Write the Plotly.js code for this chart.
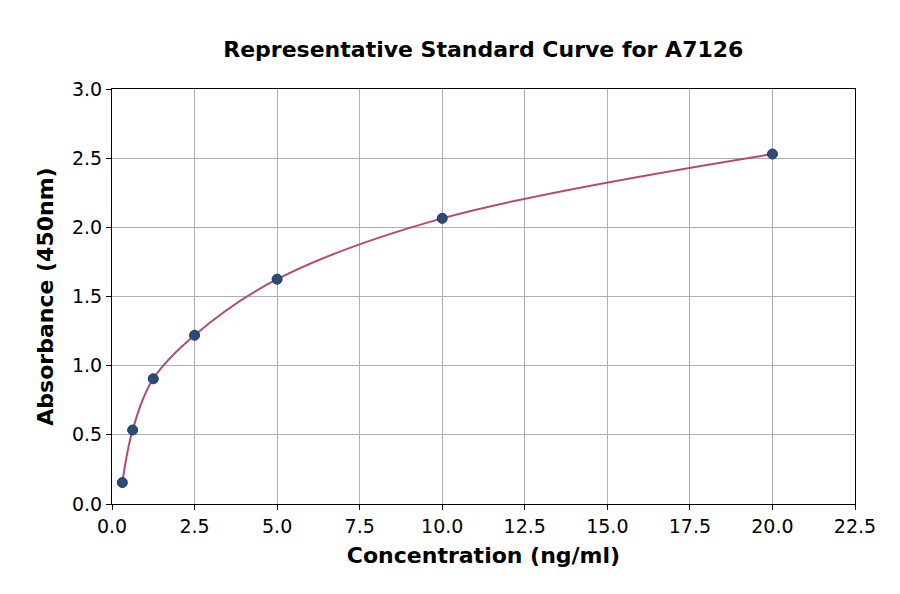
<!DOCTYPE html>
<html>
<head>
<meta charset="utf-8">
<script src="https://cdn.plot.ly/plotly-3.0.1.min.js"></script>
<style>
  html, body { margin: 0; padding: 0; background: #fff; }
  #myDiv { width: 900px; height: 594px; }
</style>
</head>
<body>
<div id="myDiv"></div>
<script>
// standard points
var concentration = [0.3125, 0.625, 1.25, 2.5, 5, 10, 20];
var absorbance = [0.155, 0.535, 0.905, 1.22, 1.625, 2.065, 2.53];

var xTicks = [0, 2.5, 5, 7.5, 10, 12.5, 15, 17.5, 20, 22.5];
var xTickText = ["0.0", "2.5", "5.0", "7.5", "10.0", "12.5", "15.0", "17.5", "20.0", "22.5"];
var yTicks = [0, 0.5, 1, 1.5, 2, 2.5, 3];
var yTickText = ["0.0", "0.5", "1.0", "1.5", "2.0", "2.5", "3.0"];

var curve = {
    x: concentration,
    y: absorbance,
    mode: 'lines',
    line: {color: '#b5496f', width: 2, shape: 'spline', smoothing: 1},
    hoverinfo: 'skip',
    showlegend: false,
    type: 'scatter'
};

var points = {
    x: concentration,
    y: absorbance,
    mode: 'markers',
    marker: {color: '#2b4b78', size: 10, line: {color: '#1f3a5f', width: 1}},
    showlegend: false,
    type: 'scatter'
};

var axisCommon = {
    showline: true,
    mirror: true,
    linecolor: '#000',
    linewidth: 1,
    showgrid: true,
    gridcolor: '#b0b0b0',
    gridwidth: 1,
    zeroline: false,
    ticks: 'outside',
    ticklen: 5,
    tickwidth: 1,
    tickcolor: '#000',
    tickfont: {family: 'DejaVu Sans', size: 19, color: '#000'}
};

var layout = {
    width: 900,
    height: 594,
    paper_bgcolor: '#fff',
    plot_bgcolor: '#fff',
    margin: {l: 112, r: 45, t: 89, b: 90},
    title: {
        text: '<b>Representative Standard Curve for A7126</b>',
        font: {family: 'DejaVu Sans', size: 22, color: '#000'},
        x: 0.537, xanchor: 'center', y: 0.917, yanchor: 'middle'
    },
    xaxis: Object.assign({}, axisCommon, {
        range: [0, 22.5],
        tickvals: xTicks,
        ticktext: xTickText,
        title: {text: '<b>Concentration (ng/ml)</b>', font: {family: 'DejaVu Sans', size: 22, color: '#000'}, standoff: 11}
    }),
    yaxis: Object.assign({}, axisCommon, {
        range: [0, 3],
        tickvals: yTicks,
        ticktext: yTickText,
        title: {text: '<b>Absorbance (450nm)</b>', font: {family: 'DejaVu Sans', size: 22, color: '#000'}, standoff: 12}
    })
};

Plotly.newPlot('myDiv', [curve, points], layout, {displayModeBar: false, staticPlot: true});
</script>
</body>
</html>
